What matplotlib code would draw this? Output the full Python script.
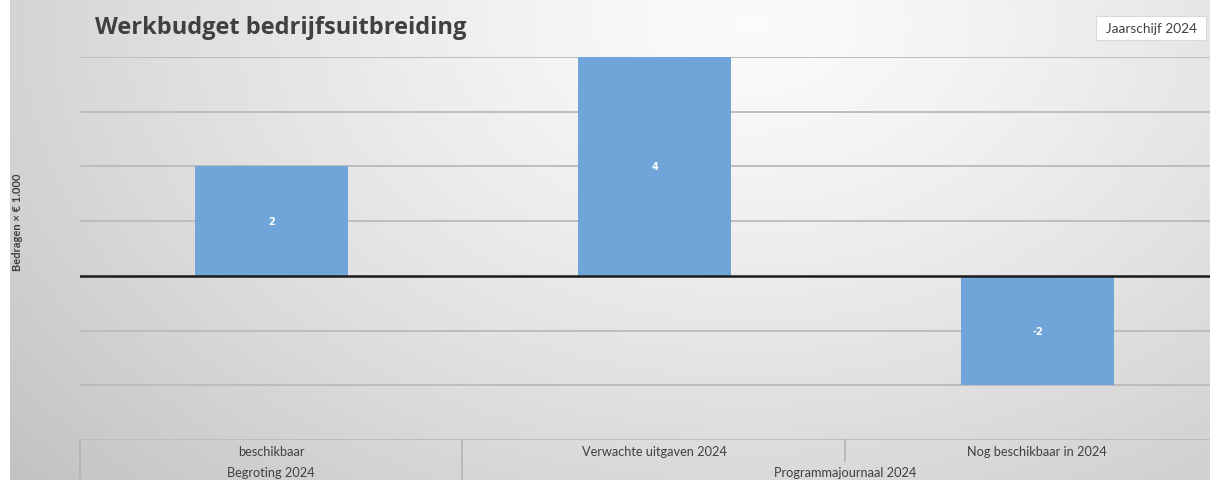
import numpy as np
import matplotlib
matplotlib.use("Agg")
import matplotlib.pyplot as plt
from matplotlib.lines import Line2D
from matplotlib.patches import Rectangle

categories = ["beschikbaar", "Verwachte uitgaven 2024", "Nog beschikbaar in 2024"]
groups = ["Begroting 2024", "Programmajournaal 2024"]
values = [2, 4, -2]
labels = ["2", "4", "-2"]

W, H = 1210, 481
fig = plt.figure(figsize=(W / 100, H / 100), dpi=100)

# background gradient
bg = fig.add_axes([0, 0, 1, 1], zorder=-10)
yy, xx = np.mgrid[0:H, 0:W]
cx, cy = 0.62 * W, 0.05 * H
d = np.sqrt(((xx - cx) / (0.75 * W)) ** 2 + ((yy - cy) / (1.3 * H)) ** 2)
g = np.clip(0.985 - 0.2 * d ** 1.3, 0.76, 1.0)
img = np.dstack([g, g, g])
img[:, :10, :] = 1.0
bg.imshow(img, aspect="auto", extent=[0, W, H, 0], interpolation="bilinear")
bg.set_xlim(0, W)
bg.set_ylim(H, 0)
bg.axis("off")

left, right, top, bottom = 80, 1210, 58, 441
ax = fig.add_axes([left / W, (H - bottom) / H, (right - left) / W, (bottom - top) / H])
ax.set_facecolor("none")
x = np.arange(len(categories))
ax.bar(x, values, width=0.4, color="#6fa5d8", zorder=3)
ax.set_xlim(-0.5, 2.45)
ax.set_ylim(-3, 4)
for yv in range(-3, 5):
    if yv != 0:
        ax.axhline(yv, color="#bdbdbd", lw=1.4, zorder=1)
ax.axhline(0, color="#1a1a1a", lw=1.8, zorder=4)
for xi, v, lab in zip(x, values, labels):
    ax.text(xi, v / 2, lab, ha="center", va="center", color="white",
            fontsize=7, fontweight="bold", zorder=5)
ax.set_xticks([])
ax.set_yticks([])
for s in ax.spines.values():
    s.set_visible(False)

# category axis boxes
bfx = lambda px: px / W
bfy = lambda py: (H - py) / H
lc = "#b5b5b5"
fig.add_artist(Line2D([bfx(80), bfx(80)], [bfy(441), bfy(481)], color=lc, lw=1.2))
fig.add_artist(Line2D([bfx(462), bfx(462)], [bfy(441), bfy(481)], color=lc, lw=1.2))
fig.add_artist(Line2D([bfx(845), bfx(845)], [bfy(441), bfy(462)], color=lc, lw=1.2))
tf = dict(ha="center", va="center", fontsize=9.2, color="#404040", family="Lato")
for cxp, cat in zip([271, 654, 1037], categories):
    fig.text(bfx(cxp), bfy(452), cat, **tf)
fig.text(bfx(271), bfy(473), groups[0], **tf)
fig.text(bfx(845), bfy(473), groups[1], **tf)

# title
fig.text(bfx(95), bfy(28), "Werkbudget bedrijfsuitbreiding", ha="left", va="center",
         fontsize=17, fontweight="bold", color="#404040", family="Open Sans")

# label box
fig.add_artist(Rectangle((bfx(1096), bfy(41)), (1206 - 1096) / W, 24 / H,
                         facecolor="white", edgecolor="#d9d9d9", lw=0.8))
fig.text(bfx(1151), bfy(29), "Jaarschijf 2024", ha="center", va="center",
         fontsize=9.8, color="#404040", family="Lato")

# y label
fig.text(bfx(18), bfy(222), "Bedragen × € 1.000", rotation=90, ha="center", va="center",
         fontsize=8, fontweight="bold", color="#404040", family="Lato")

fig.savefig("out.png", dpi=100)
